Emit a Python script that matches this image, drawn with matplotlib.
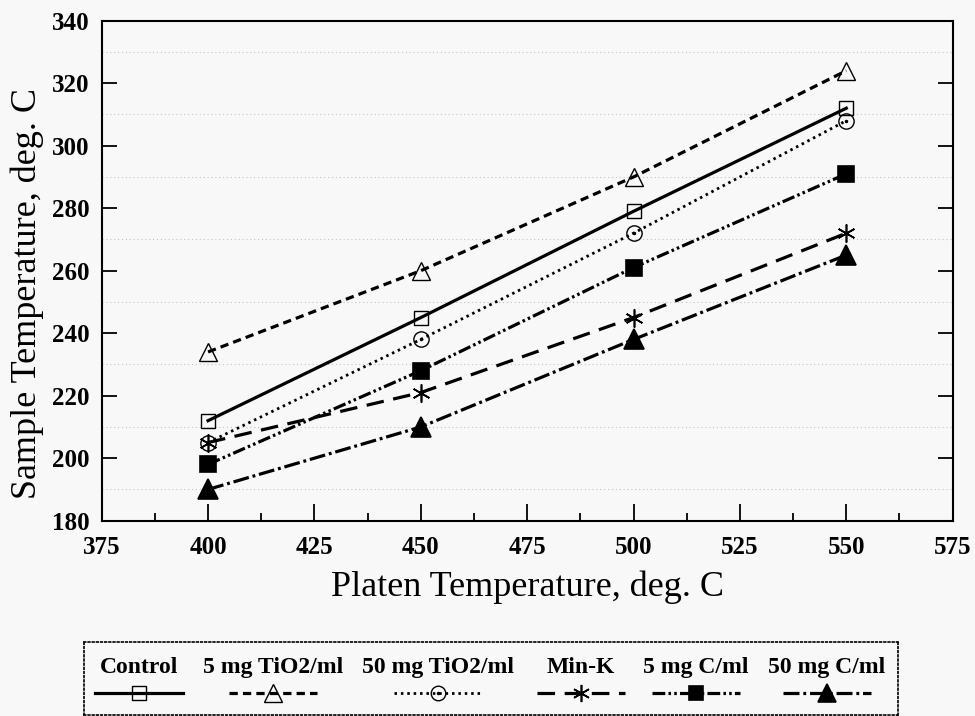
import matplotlib
matplotlib.use('Agg')
import matplotlib.pyplot as plt
from matplotlib.ticker import MultipleLocator

# Platen temperature (deg. C)
platen = [400, 450, 500, 550]

# Sample temperature for each coating (deg. C)
control = [212, 245, 279, 312]
tio2_5 = [234, 260, 290, 324]
tio2_50 = [205, 238, 272, 308]
min_k = [205, 221, 245, 272]
c_5 = [198, 228, 261, 291]
c_50 = [190, 210, 238, 265]

labels = ['Control', '5 mg TiO2/ml', '50 mg TiO2/ml', 'Min-K', '5 mg C/ml', '50 mg C/ml']

BG = '#f8f8f8'
SERIF = ['Liberation Serif', 'DejaVu Serif']


def series_styles():
    # (linestyle, marker, markersize, facecolor, linewidth)
    return [
        ('-', 's', 10, 'none', 2.3),
        ((0, (2.6, 1.6)), '^', 13, 'none', 2.3),
        ((0, (0.9, 1.4)), 'o', 11, 'none', 2.0),
        ((0, (5.5, 3.0)), (6, 2, 0), 13, 'black', 2.3),
        ((0, (4.0, 1.0, 0.8, 1.0, 0.8, 1.0)), 's', 11, 'black', 2.3),
        ((0, (5.0, 1.2, 0.9, 1.2)), '^', 14, 'black', 2.3),
    ]


def draw_series(ax, x, y, style, **kw):
    ls, marker, ms, fc, lw = style
    ax.plot(x, y, linestyle=ls, color='black', linewidth=lw, marker=marker,
            markersize=ms, markerfacecolor=fc, markeredgecolor='black',
            markeredgewidth=1.0 if fc == 'none' else 1.2, **kw)
    if marker == 'o':
        # the open circles carry a small dot in the middle
        ax.plot(x, y, linestyle='none', marker='.', markersize=3, color='black', **kw)


def main():
    fig = plt.figure(figsize=(9.75, 7.16), dpi=100, facecolor=BG)
    ax = fig.add_axes([0.1043, 0.2728, 0.8728, 0.6983], facecolor=BG)

    data = [control, tio2_5, tio2_50, min_k, c_5, c_50]
    styles = series_styles()
    for y, st in zip(data, styles):
        draw_series(ax, platen, y, st)

    ax.set_xlim(375, 575)
    ax.set_ylim(180, 340)
    ax.xaxis.set_major_locator(MultipleLocator(25))
    ax.xaxis.set_minor_locator(MultipleLocator(12.5))
    ax.yaxis.set_major_locator(MultipleLocator(20))
    ax.yaxis.set_minor_locator(MultipleLocator(10))

    # faint dotted lines half way between the y ticks
    ax.grid(True, which='minor', axis='y', linestyle=(0, (1, 2.5)), color='#c4c4c4', linewidth=0.8)
    ax.set_axisbelow(True)

    ax.tick_params(axis='x', which='major', direction='in', length=12, width=1.3,
                   top=False, pad=11)
    ax.tick_params(axis='x', which='minor', direction='in', length=6, width=1.3, top=False)
    ax.tick_params(axis='y', which='major', direction='in', length=11, width=1.3,
                   right=True, pad=9)
    ax.tick_params(axis='y', which='minor', length=0)
    for lab in ax.get_xticklabels() + ax.get_yticklabels():
        lab.set_fontfamily(SERIF)
        lab.set_fontweight('bold')
        lab.set_fontsize(18)
    for sp in ax.spines.values():
        sp.set_linewidth(1.5)

    ax.set_xlabel('Platen Temperature, deg. C', family=SERIF, fontsize=26, va='top')
    ax.xaxis.set_label_coords(0.5, -0.1)
    ax.set_ylabel('Sample Temperature, deg. C', family=SERIF, fontsize=26, va='center')
    ax.yaxis.set_label_coords(-0.087, 0.455)

    # legend: label above a line sample, inside a dotted box
    lax = fig.add_axes([84 / 975, 1 / 716, (898 - 84) / 975, (715 - 642) / 716], facecolor=BG)
    lax.set_xlim(84, 898)
    lax.set_ylim(715, 642)
    lax.set_xticks([])
    lax.set_yticks([])
    for sp in lax.spines.values():
        sp.set_linestyle((0, (1, 1.5)))
        sp.set_linewidth(1.2)
    centers = [139, 273, 438, 581, 696, 827]
    for cx, name, st in zip(centers, labels, styles):
        lax.text(cx, 667, name, family=SERIF, fontsize=17, fontweight='bold',
                 ha='center', va='center')
        lax.plot([cx - 44, cx + 44], [693, 693], linestyle=st[0], color='black', linewidth=st[4])
        draw_series(lax, [cx], [693], (st[0], st[1], st[2] * 0.95, st[3], st[4]))

    fig.savefig('out.png', dpi=100, facecolor=BG)


if __name__ == '__main__':
    main()
